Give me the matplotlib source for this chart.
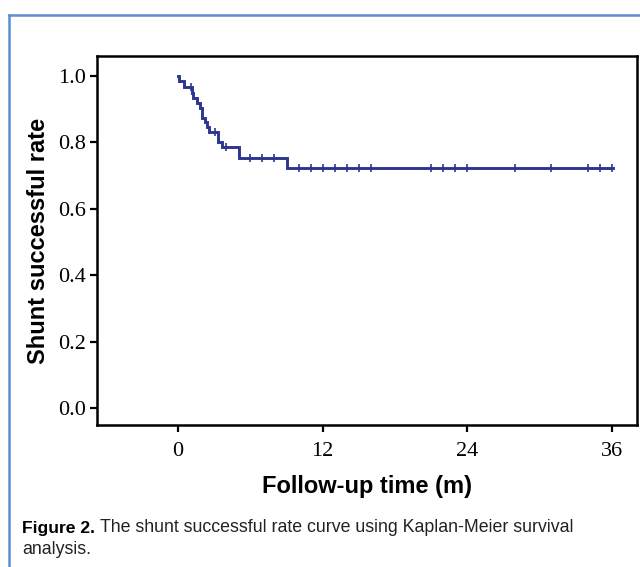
import matplotlib
matplotlib.use("Agg")
import matplotlib.pyplot as plt
from matplotlib.lines import Line2D

# ---- data ----
event_times = [0.0, 0.11, 0.50, 1.13, 1.27, 1.60, 1.83, 1.97, 2.24, 2.42, 2.60, 3.35, 3.63, 5.10, 9.03, 36.1]
surv_levels = [1.0, 0.985, 0.966, 0.948, 0.933, 0.918, 0.903, 0.873, 0.860, 0.847, 0.832, 0.802, 0.785, 0.752, 0.722, 0.722]
censor_times = [1.05, 3.07, 4.0, 5.05, 6.0, 7.0, 8.0, 10, 11, 12, 13, 14, 15, 16, 21, 22, 23, 24, 28, 31, 34, 35, 36]
censor_levels = [0.966, 0.832, 0.785, 0.768, 0.752, 0.752, 0.752] + [0.722] * 16
x_ticks = [0, 12, 24, 36]
y_ticks = [0.0, 0.2, 0.4, 0.6, 0.8, 1.0]
y_tick_labels = ["0.0", "0.2", "0.4", "0.6", "0.8", "1.0"]

fig = plt.figure(figsize=(6.4, 5.67), dpi=100)
fig.patch.set_facecolor("white")

# blue frame (top and left edges)
frame_col = "#5b8fd1"
fx, fy = 9/640, 1 - 15/567
fig.add_artist(Line2D([fx, fx], [0, fy], transform=fig.transFigure, color=frame_col, lw=1.8))
fig.add_artist(Line2D([fx, 1], [fy, fy], transform=fig.transFigure, color=frame_col, lw=1.8))

ax = fig.add_axes([97/640, 1 - 425/567, 540/640, 369/567])
line_col = "#2e3590"
ax.step(event_times, surv_levels, where="post", color=line_col, lw=2.1, solid_joinstyle="miter")
ax.plot(censor_times, censor_levels, linestyle="none", marker="|", markersize=6,
        markeredgewidth=1.2, color=line_col)

ax.set_xlim(-6.73, 38.1)
ax.set_ylim(-0.051, 1.060)
ax.set_xticks(x_ticks)
ax.set_xticklabels([str(t) for t in x_ticks])
ax.set_yticks(y_ticks)
ax.set_yticklabels(y_tick_labels)
for s in ax.spines.values():
    s.set_linewidth(1.8)
    s.set_color("black")
ax.tick_params(direction="out", length=5, width=1.6, color="black", pad=3)
ax.tick_params(axis="x", pad=7.5)
for lab in ax.get_xticklabels() + ax.get_yticklabels():
    lab.set_fontfamily("Liberation Serif")
    lab.set_fontsize(16)

ax.set_ylabel("Shunt successful rate", fontfamily="Liberation Sans", fontweight="bold", fontsize=17, labelpad=6)
ax.set_xlabel("Follow-up time (m)", fontfamily="Liberation Sans", fontweight="bold", fontsize=17, labelpad=9.5)

# caption
cap_font = "Liberation Sans"
fig.text(22/640, 1 - 528/567, "Figure 2.", fontfamily=cap_font, fontweight="bold", fontsize=12.6, va="center", ha="left")
fig.text(100/640, 1 - 528/567, "The shunt successful rate curve using Kaplan-Meier survival",
         fontfamily=cap_font, fontsize=12.8, va="center", ha="left", color="#222222")
fig.text(22/640, 1 - 550/567, "analysis.", fontfamily=cap_font, fontsize=12.8, va="center", ha="left", color="#222222")

fig.savefig("out.png", dpi=100, facecolor="white")
